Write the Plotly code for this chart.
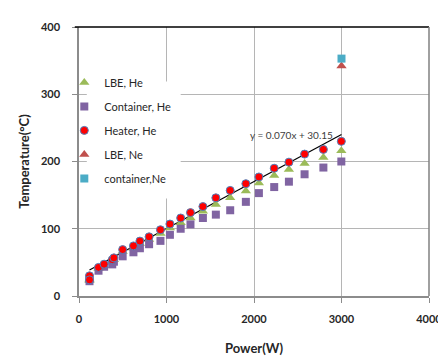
import plotly.graph_objects as go

power_he = [120, 120, 223, 287, 380, 399, 499, 622, 696, 801, 931, 1039, 1162, 1274,
            1416, 1564, 1728, 1907, 2056, 2231, 2399, 2578, 2793, 2998]
heater_he = [30, 24, 42.5, 47.3, 54, 56.7, 69, 74.5, 81.6, 88, 98.5, 107, 116, 124,
             133, 146, 157, 167, 177, 190, 199, 211, 218, 230]
lbe_he = [25, 23, 41, 45, 51, 54, 66, 71, 78, 84, 93, 101, 109, 116,
          126, 136, 146, 156, 168, 179, 188, 197, 206, 216]
container_he = [26, 22, 37.6, 43.5, 47, 51, 59, 65, 71, 77, 82, 91, 100, 106.5,
                116, 121, 127.5, 140, 153, 162, 170, 181, 191, 200]

power_ne = [3000]
lbe_ne = [342]
container_ne = [353]

fit_slope = 0.070
fit_intercept = 30.15
fit_x = [120, 3000]
fit_y = [fit_slope * v + fit_intercept for v in fit_x]

x_ticks = [0, 1000, 2000, 3000, 4000]
y_ticks = [0, 100, 200, 300, 400]

FONT = "Lato"
fig = go.Figure()

fig.add_trace(go.Scatter(x=fit_x, y=fit_y, mode="lines", line=dict(color="black", width=1.2),
                         showlegend=False, hoverinfo="skip"))
fig.add_trace(go.Scatter(x=power_he, y=lbe_he, mode="markers", name="LBE, He", legendgroup="a",
                         marker=dict(symbol="triangle-up", size=9, color="#9bbb59")))
fig.add_trace(go.Scatter(x=power_he, y=container_he, mode="markers", name="Container, He", legendgroup="b",
                         marker=dict(symbol="square", size=8, color="#8064a2")))
fig.add_trace(go.Scatter(x=power_he, y=heater_he, mode="markers", name="Heater, He", legendgroup="c",
                         marker=dict(symbol="circle", size=8, color="#ff0000",
                                     line=dict(color="#4f81bd", width=1))))
fig.add_trace(go.Scatter(x=power_ne, y=lbe_ne, mode="markers", name="LBE, Ne", legendgroup="d",
                         marker=dict(symbol="triangle-up", size=9, color="#c0504d")))
fig.add_trace(go.Scatter(x=power_ne, y=container_ne, mode="markers", name="container,Ne", legendgroup="e",
                         marker=dict(symbol="square", size=8, color="#4bacc6")))

fig.add_annotation(x=2425, y=239, text="y = 0.070x + 30.15", showarrow=False,
                   font=dict(family=FONT, size=10, color="#404040"))

# legend background box
fig.add_shape(type="rect", xref="x", yref="y", x0=89, x1=1162, y0=145, y1=319,
              fillcolor="white", line=dict(width=0), layer="above")
# plot area border top/right
fig.add_shape(type="line", xref="paper", yref="paper", x0=-0.012, x1=1, y0=1, y1=1,
              line=dict(color="black", width=1.5))
fig.add_shape(type="line", xref="paper", yref="paper", x0=1, x1=1, y0=0, y1=1,
              line=dict(color="#808080", width=1.5))

fig.update_layout(
    width=446, height=362,
    margin=dict(l=71, r=16, t=14, b=74),
    paper_bgcolor="white", plot_bgcolor="white",
    font=dict(family=FONT, color="#262626"),
    legend=dict(x=-0.042, y=0.848, xanchor="left", yanchor="top", bgcolor="rgba(0,0,0,0)",
                font=dict(family=FONT, size=11, color="#262626"), tracegroupgap=5,
                traceorder="grouped"),
    xaxis=dict(range=[0, 4000], tickvals=x_ticks, showgrid=True, gridcolor="#b5b5b5", gridwidth=1,
               showline=True, linecolor="#8c8c8c", linewidth=1.5, ticks="outside", ticklen=5,
               tickcolor="#8c8c8c", ticklabelstandoff=7, zeroline=False,
               tickfont=dict(family=FONT, size=11, color="#262626", weight="bold"),
               title=dict(text="<b>Power(W)</b>", font=dict(family=FONT, size=13, color="#262626"),
                          standoff=20)),
    yaxis=dict(range=[0, 400], tickvals=y_ticks, showgrid=True, gridcolor="#b5b5b5", gridwidth=1,
               showline=True, linecolor="#8c8c8c", linewidth=1.5, ticks="outside", ticklen=5,
               tickcolor="#8c8c8c", ticklabelstandoff=10, zeroline=False,
               tickfont=dict(family=FONT, size=11, color="#262626", weight="bold"),
               title=dict(text="<b>Temperature(°C)</b>", font=dict(family=FONT, size=13, color="#262626"),
                          standoff=8)),
)

fig.write_html("out.html")
